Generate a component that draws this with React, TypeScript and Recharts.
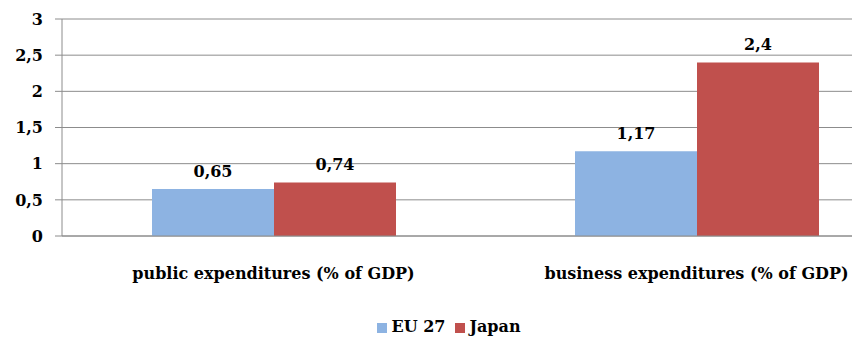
import { Bar, BarChart, CartesianGrid, LabelList, Legend, XAxis, YAxis } from "recharts";

const categories = ["public expenditures (% of GDP)", "business expenditures (% of GDP)"];
const eu27 = [0.65, 1.17];
const japan = [0.74, 2.4];
const yTicks = [0, 0.5, 1, 1.5, 2, 2.5, 3];
const boundaryTicks = [0, 1, 2];

const data = categories.map((name, i) => ({ name, idx: i + 0.5, eu27: eu27[i], japan: japan[i] }));

const fmt = (v: number | string) => String(v).replace(".", ",");
const font = "'DejaVu Serif', serif";
const textStyle = { fontFamily: font, fontWeight: 700, fontSize: 16, fill: "#000" };

export default function App() {
  return (
    <div style={{ position: "fixed", left: 0, top: 0, width: 852, height: 342, overflow: "hidden", background: "#fff", fontFamily: font }}>
      <BarChart
        width={914}
        height={342}
        data={data}
        margin={{ top: 19, right: 6, bottom: 6, left: 0 }}
        barCategoryGap={90}
        barGap={0}
      >
        <CartesianGrid vertical={false} stroke="#8c8c8c" />
        <XAxis
          xAxisId="edges"
          type="number"
          dataKey="idx"
          domain={[0, 2]}
          ticks={boundaryTicks}
          tick={false}
          axisLine={false}
          tickLine={{ stroke: "#8c8c8c" }}
          tickSize={5}
          height={0}
        />
        <XAxis
          dataKey="name"
          tickLine={false}
          axisLine={{ stroke: "#8c8c8c" }}
          tick={textStyle}
          tickMargin={26}
          height={81}
          interval={0}
        />
        <YAxis
          domain={[0, 3]}
          ticks={yTicks}
          tickFormatter={fmt}
          width={62}
          axisLine={{ stroke: "#8c8c8c" }}
          tickLine={{ stroke: "#8c8c8c" }}
          tickSize={7}
          tickMargin={12}
          tick={textStyle}
        />
        <Legend
          verticalAlign="bottom"
          iconType="square"
          iconSize={10}
          formatter={(value) => <span style={{ color: "#000", fontFamily: font, fontWeight: 700, fontSize: 16 }}>{value}</span>}
        />
        <Bar dataKey="eu27" name="EU 27" fill="#8DB3E2" isAnimationActive={false}>
          <LabelList dataKey="eu27" position="top" offset={12} formatter={fmt} style={textStyle} />
        </Bar>
        <Bar dataKey="japan" name="Japan" fill="#C0504D" isAnimationActive={false}>
          <LabelList dataKey="japan" position="top" offset={12} formatter={fmt} style={textStyle} />
        </Bar>
      </BarChart>
    </div>
  );
}
